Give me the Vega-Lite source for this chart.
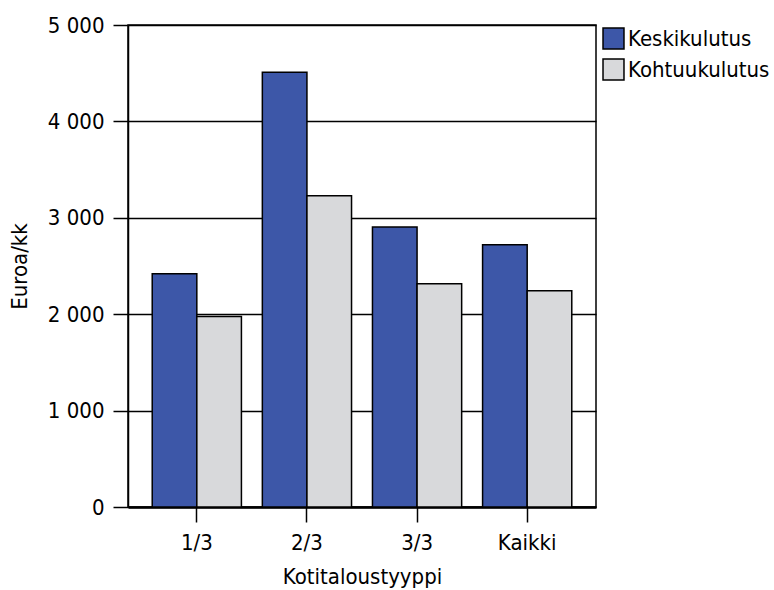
{
  "$schema": "https://vega.github.io/schema/vega-lite/v6.json",
  "width": 468,
  "height": 482,
  "autosize": {"type": "none"},
  "padding": {"left": 128, "top": 25, "right": 178, "bottom": 83},
  "config": {
    "font": "DejaVu Sans Condensed",
    "view": {"stroke": "black", "strokeWidth": 1.5},
    "axis": {"labelFont": "DejaVu Sans Condensed", "titleFont": "DejaVu Sans Condensed", "labelColor": "black", "titleColor": "black", "titleFontWeight": "normal", "labelFontSize": 22, "titleFontSize": 22, "tickColor": "black", "domainColor": "black", "gridColor": "black"},
    "legend": {"labelFont": "DejaVu Sans Condensed", "labelFontSize": 22, "labelColor": "black"}
  },
  "data": {
    "values": [
      {"tyyppi": "1/3", "sarja": "Keskikulutus", "arvo": 2420},
      {"tyyppi": "1/3", "sarja": "Kohtuukulutus", "arvo": 1975},
      {"tyyppi": "2/3", "sarja": "Keskikulutus", "arvo": 4510},
      {"tyyppi": "2/3", "sarja": "Kohtuukulutus", "arvo": 3230},
      {"tyyppi": "3/3", "sarja": "Keskikulutus", "arvo": 2905},
      {"tyyppi": "3/3", "sarja": "Kohtuukulutus", "arvo": 2315},
      {"tyyppi": "Kaikki", "sarja": "Keskikulutus", "arvo": 2720},
      {"tyyppi": "Kaikki", "sarja": "Kohtuukulutus", "arvo": 2242}
    ]
  },
  "mark": {"type": "bar", "stroke": "black", "strokeWidth": 1.5},
  "encoding": {
    "x": {
      "field": "tyyppi", "type": "nominal", "sort": null,
      "scale": {"paddingInner": 0.19, "paddingOuter": 0.22},
      "axis": {"title": "Kotitaloustyyppi", "labelAngle": 0, "tickSize": 15, "tickWidth": 1.5, "domainWidth": 2.5, "labelPadding": 10, "titlePadding": 13}
    },
    "xOffset": {"field": "sarja", "type": "nominal", "scale": {"paddingInner": 0, "paddingOuter": 0}},
    "y": {
      "field": "arvo", "type": "quantitative",
      "scale": {"domain": [0, 5000], "nice": false},
      "axis": {"title": "Euroa/kk", "values": [0, 1000, 2000, 3000, 4000, 5000], "tickSize": 15, "tickWidth": 1.5, "gridWidth": 1.5, "domainWidth": 1.5, "labelPadding": 9, "titlePadding": 16,
        "labelExpr": "replace(format(datum.value, ',d'), ',', ' ')"}
    },
    "color": {
      "field": "sarja", "type": "nominal",
      "scale": {"domain": ["Keskikulutus", "Kohtuukulutus"], "range": ["#3d57a8", "#d8d9db"]},
      "legend": {"title": null, "orient": "none", "legendX": 474, "legendY": 2, "padding": 0, "symbolType": "square", "symbolSize": 440, "symbolStrokeColor": "black", "symbolStrokeWidth": 1.5, "rowPadding": 4, "labelOffset": 3}
    }
  }
}
